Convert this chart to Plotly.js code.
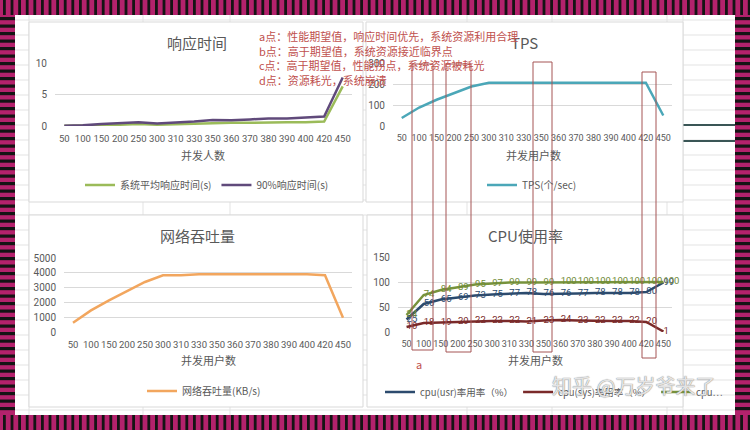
<!DOCTYPE html>
<html>
<head>
<meta charset="utf-8">
<script src="https://cdn.plot.ly/plotly-3.0.1.min.js"></script>
<style>html,body{margin:0;padding:0;background:#fff;}#chart{width:750px;height:430px;}</style>
</head>
<body>
<div id="chart"></div>
<script>
// ---------------- data ----------------
const users = ['50','100','150','200','250','300','310','330','350','360','370','380','390','400','420','450'];
const avgResp = [0.05,0.05,0.1,0.2,0.3,0.2,0.3,0.35,0.5,0.5,0.5,0.6,0.6,0.6,0.7,6.3];
const p90Resp = [0.05,0.1,0.3,0.45,0.6,0.4,0.5,0.7,0.95,0.9,1.05,1.2,1.2,1.35,1.5,7.7];
const tps = [38,88,125,158,188,206,206,208,208,208,208,208,208,208,206,50];
const netKB = [630,1460,2140,2750,3380,3830,3830,3900,3900,3940,3900,3900,3900,3900,3830,970];
const cpuUsr = [25,56,65,69,73,75,77,78,76,76,77,78,78,78,80,99];
const cpuSys = [10,18,19,20,22,22,22,21,23,24,23,22,22,22,20,1];
const cpuTotal = [34,74,84,89,95,97,99,99,99,100,100,100,100,100,100,100];
const respTicks = [0,5,10];
const tpsTicks = [0,100,200,300];
const netTicks = [0,1000,2000,3000,4000,5000];
const cpuTicks = [0,50,100,150];
const noteLines = [
  'a点：性能期望值，响应时间优先，系统资源利用合理',
  'b点：高于期望值，系统资源接近临界点',
  'c点：高于期望值，性能拐点，系统资源被耗光',
  'd点：资源耗光，系统崩溃'
];

// ---------------- helpers ----------------
const W = 750, H = 430;
const px = v => v / W;
const py = v => 1 - v / H;
const FONT = 'Noto Sans CJK SC, Noto Sans, sans-serif';
const NUMFONT = 'Roboto, Noto Sans CJK SC, sans-serif';
const GRAY = '#595959';

const shapes = [];
function rect(x0, y0, x1, y1, fill, line, layer) {
  shapes.push({type:'rect', xref:'paper', yref:'paper', x0:px(x0), x1:px(x1), y0:py(y1), y1:py(y0),
    fillcolor: fill || 'rgba(0,0,0,0)', line: line || {width:0}, layer: layer || 'below'});
}
function hline(x0, x1, y, color, w, layer) {
  shapes.push({type:'line', xref:'paper', yref:'paper', x0:px(x0), x1:px(x1), y0:py(y), y1:py(y),
    line:{color:color, width:w}, layer: layer || 'below'});
}
function vline(x, y0, y1, color, w, layer) {
  shapes.push({type:'line', xref:'paper', yref:'paper', x0:px(x), x1:px(x), y0:py(y0), y1:py(y1),
    line:{color:color, width:w}, layer: layer || 'below'});
}

// striped frame
const MAG = '#b3226c', BLK = '#141414';
rect(0,0,750,15,MAG); rect(0,415,750,430,MAG); rect(0,0,15,430,MAG); rect(735,0,750,430,MAG);
for (let x = 3; x < 750; x += 7.6) { rect(x,0,x+2.8,15,BLK); rect(x,415,x+2.8,430,BLK); }
for (let y = 17; y < 413; y += 7.5) { rect(0,y,15,y+3.2,BLK); rect(735,y,750,y+3.2,BLK); }
// sheet area
rect(15,15,735,415,'#ffffff');
for (let y = 20; y < 415; y += 15) hline(15,735,y,'#e3e3e3',1);
[29,143,230,467,552,667,683].forEach(x => vline(x,15,415,'#e3e3e3',1));
hline(683,735,125,'#3a5656',2);
hline(683,735,141,'#3a5656',2);
// chart boxes
const boxLine = {color:'#d9d9d9', width:1};
rect(29,22,363,202,'#ffffff',boxLine);
rect(366,22,683,202,'#ffffff',boxLine);
rect(29,215,363,407,'#ffffff',boxLine);
rect(367,215,683,407,'#ffffff',boxLine);
// red marking rectangles
const redLine = {color:'#a55555', width:1};
rect(412,64,433,350,null,redLine,'above');
rect(446,64,471,352,null,redLine,'above');
rect(533,62,552,352,null,redLine,'above');
rect(642,72,656,358,null,redLine,'above');

// ---------------- axes ----------------
function xax(x0, x1, fs) {
  return {domain:[px(x0),px(x1)], type:'category', range:[-0.5,15.5], showgrid:false,
    zeroline:false, showline:false, ticks:'', tickfont:{family:NUMFONT,size:fs,color:GRAY},
    tickangle:0, ticklabelstandoff:5, fixedrange:true};
}
function yax(y0, y1, range, ticks) {
  return {domain:[py(y1),py(y0)], range:range, tickvals:ticks, ticktext:ticks.map(String),
    showgrid:true, gridcolor:'#d9d9d9', gridwidth:1, zeroline:false, showline:false, ticks:'',
    tickfont:{family:NUMFONT,size:10,color:GRAY}, ticklabelstandoff:7, fixedrange:true};
}
const layout = {
  width:W, height:H, margin:{l:0,r:0,t:0,b:0}, paper_bgcolor:'#ffffff', plot_bgcolor:'rgba(0,0,0,0)',
  font:{family:FONT, color:GRAY}, shapes: shapes, showlegend:true,
  xaxis: Object.assign(xax(55,352,9.5), {anchor:'y'}),
  yaxis: Object.assign(yax(63,126,[0,10],respTicks), {anchor:'x'}),
  xaxis2: Object.assign(xax(393,672,9), {anchor:'y2'}),
  yaxis2: Object.assign(yax(63,126,[0,300],tpsTicks), {anchor:'x2'}),
  xaxis3: Object.assign(xax(64,352,9.5), {anchor:'y3'}),
  yaxis3: Object.assign(yax(258,332,[0,5000],netTicks), {anchor:'x3'}),
  xaxis4: Object.assign(xax(398,672,9), {anchor:'y4'}),
  yaxis4: Object.assign(yax(257,332,[0,150],cpuTicks), {anchor:'x4'}),
};
function leg(x, y, size) {
  return {orientation:'h', x:px(x), xanchor:'left', y:py(y), yanchor:'middle', bgcolor:'rgba(0,0,0,0)',
    borderwidth:0, font:{family:FONT,size:size||10,color:GRAY}, itemwidth:30, traceorder:'normal'};
}
layout.legend = leg(80,185);
layout.legend2 = leg(482,185);
layout.legend3 = leg(142,391);
layout.legend4 = leg(380,392,9.5);

// ---------------- annotations ----------------
const ann = [];
function txt(x, y, t, size, color, xanchor, extra) {
  ann.push(Object.assign({xref:'paper', yref:'paper', x:px(x), y:py(y), text:t, showarrow:false,
    xanchor: xanchor || 'center', yanchor:'middle', font:{family:FONT, size:size, color:color}}, extra || {}));
}
txt(197,42,'响应时间',15,GRAY);
txt(524,42,'TPS',15,GRAY);
txt(197,235,'网络吞吐量',15,GRAY);
txt(525,235,'CPU使用率',15,GRAY);
txt(203,155,'并发人数',11,GRAY);
txt(533,155,'并发用户数',11,GRAY);
txt(208,360,'并发用户数',11,GRAY);
txt(535,360,'并发用户数',11,GRAY);
[36,51,65,80].forEach((y,i) => txt(257,y,noteLines[i],11,'#c0504d','left'));
txt(419,364,'a',11,'#c0504d');
txt(633,385,'知乎 @万岁爷来了',20,'rgba(255,255,255,0.75)','center',
  {font:{family:FONT,size:20,color:'rgba(255,255,255,0.8)',shadow:'0 0 1px #777, 0 0 1px #777'}});
layout.annotations = ann;

// ---------------- traces ----------------
const traces = [
  {x:users, y:avgResp, xaxis:'x', yaxis:'y', mode:'lines', name:'系统平均响应时间(s)', legend:'legend',
   line:{color:'#9bbb59', width:2.5}},
  {x:users, y:p90Resp, xaxis:'x', yaxis:'y', mode:'lines', name:'90%响应时间(s)', legend:'legend',
   line:{color:'#604a7b', width:2.5}},
  {x:users, y:tps, xaxis:'x2', yaxis:'y2', mode:'lines', name:'TPS(个/sec)', legend:'legend2',
   line:{color:'#4ba7b8', width:2.5}},
  {x:users, y:netKB, xaxis:'x3', yaxis:'y3', mode:'lines', name:'网络吞吐量(KB/s)', legend:'legend3',
   line:{color:'#f2a65e', width:2.5}},
  {x:users, y:cpuUsr, xaxis:'x4', yaxis:'y4', mode:'lines', name:'cpu(usr)率用率（%）', legend:'legend4',
   line:{color:'#2c4b6e', width:2.5}},
  {x:users, y:cpuSys, xaxis:'x4', yaxis:'y4', mode:'lines', name:'cpu(sys)率用率（%）', legend:'legend4',
   line:{color:'#7a2a2a', width:2.5}},
  {x:users, y:cpuTotal, xaxis:'x4', yaxis:'y4', mode:'lines', name:'cpu…', legend:'legend4',
   line:{color:'#77933c', width:2.5}},
];
[[cpuUsr,'#2c4b6e'],[cpuSys,'#7a2a2a'],[cpuTotal,'#6f8a36']].forEach(([arr,c]) => {
  traces.push({x:users, y:arr, xaxis:'x4', yaxis:'y4', mode:'text', text:arr.map(String),
    textposition:'middle right', textfont:{family:NUMFONT,size:9.5,color:c}, cliponaxis:false,
    showlegend:false, hoverinfo:'skip'});
});

Plotly.newPlot('chart', traces, layout, {displayModeBar:false, staticPlot:true});
</script>
</body>
</html>
